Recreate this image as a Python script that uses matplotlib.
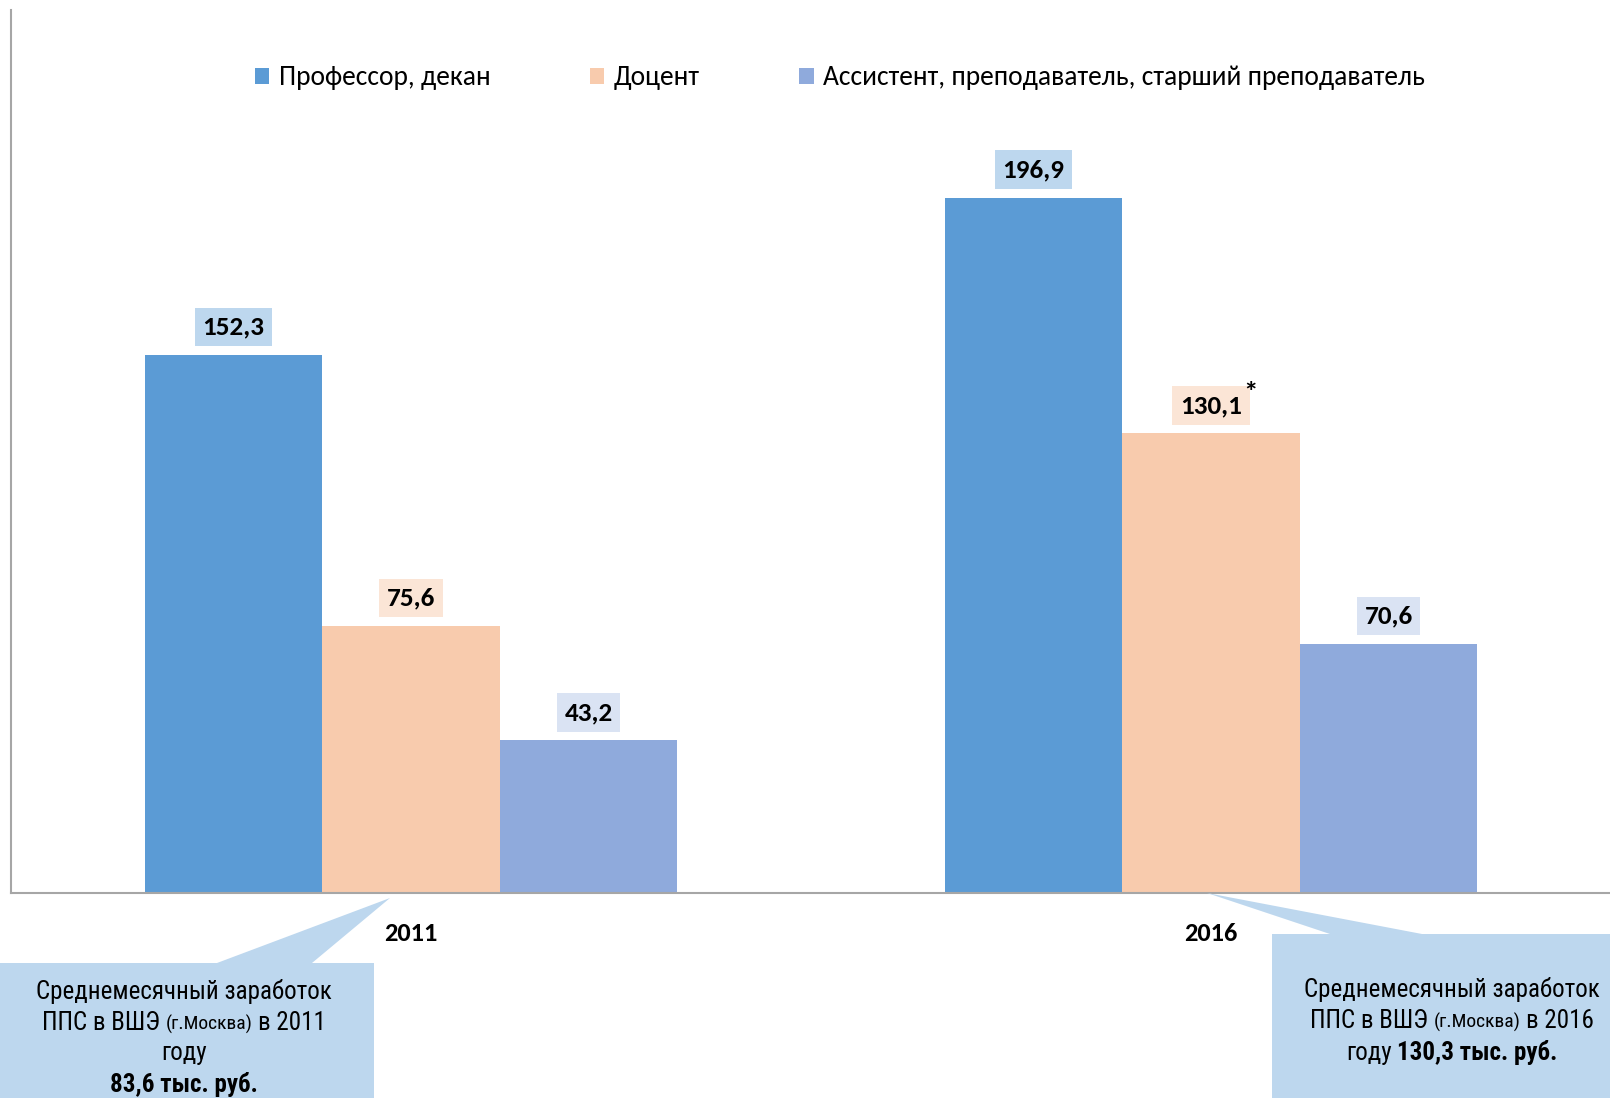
import matplotlib
matplotlib.use("Agg")
import matplotlib.pyplot as plt
import numpy as np
from matplotlib import font_manager
from matplotlib.patches import Patch, Polygon
from matplotlib.offsetbox import TextArea, HPacker, VPacker, AnnotationBbox

# === ДАННЫЕ ===
years = ["2011", "2016"]
series_names = ["Профессор, декан", "Доцент", "Ассистент, преподаватель, старший преподаватель"]
professor = [152.3, 196.9]
docent = [75.6, 130.1]
assistant = [43.2, 70.6]

bar_colors = ["#5B9BD5", "#F8CBAD", "#8FAADC"]
label_colors = ["#BDD7EE", "#FBE5D6", "#DAE3F3"]
callout_color = "#BDD7EE"

# === ШРИФТЫ ===
available = {f.name for f in font_manager.fontManager.ttflist}


def pick(*cands):
    for c in cands:
        if c in available:
            return c
    return "DejaVu Sans"


main_font = pick("Carlito", "Lato", "Open Sans")
narrow_font = pick("Liberation Sans Narrow", "Roboto Condensed", "Liberation Sans")
plt.rcParams["font.family"] = [main_font, "DejaVu Sans"]

W, H = 1610, 1098
fig = plt.figure(figsize=(W / 100, H / 100), dpi=100)


def fx(x):
    return x / W


def fy(y):
    return 1 - y / H


# оси: левая граница x=11, верх y=10, низ y=893
ax = fig.add_axes([fx(11), fy(893), 1600 / W, 883 / H])
ax.set_xlim(-0.5, 1.5)
ax.set_ylim(0, 250)

x = np.arange(len(years))
bw = 0.222
values = [professor, docent, assistant]
for i, vals in enumerate(values):
    pos = x + (i - 1) * bw
    ax.bar(pos, vals, width=bw, color=bar_colors[i], edgecolor="none",
           label=series_names[i], zorder=2)
    for xp, v in zip(pos, vals):
        ax.annotate(f"{v:.1f}".replace(".", ","), xy=(xp, v),
                    xytext=(0, 28), textcoords="offset pixels",
                    ha="center", va="center", fontsize=19.5, fontweight="bold",
                    color="black",
                    bbox=dict(boxstyle="square,pad=0.28", fc=label_colors[i], ec="none"))

# звёздочка у 130,1
ax.annotate("*", xy=(x[1], docent[1]), xytext=(40, 40), textcoords="offset pixels",
            ha="center", va="center", fontsize=21, fontweight="bold")

# === ОСИ ===
for s in ["top", "right"]:
    ax.spines[s].set_visible(False)
for s in ["left", "bottom"]:
    ax.spines[s].set_color("#A6A6A6")
    ax.spines[s].set_linewidth(1.5)
ax.set_yticks([])
ax.set_xticks(x)
ax.set_xticklabels(years, fontsize=19, fontweight="bold")
ax.tick_params(axis="x", length=0, pad=21)

# === ЛЕГЕНДА ===
handles = [Patch(facecolor=c, edgecolor="none", label=n) for c, n in zip(bar_colors, series_names)]
fig.legend(handles=handles, loc="center", bbox_to_anchor=(fx(840), fy(78)), ncol=3,
           frameon=False, fontsize=19.8, handlelength=0.53, handleheight=0.53,
           handletextpad=0.35, columnspacing=3.6)

# === ВЫНОСКИ ===
left_poly = [(0, 963), (217, 963), (390, 898), (312, 963), (374, 963), (374, 1098), (0, 1098)]
right_poly = [(1272, 934), (1330, 934), (1207, 893), (1422, 934), (1610, 934), (1610, 1098), (1272, 1098)]
for poly in [left_poly, right_poly]:
    fig.add_artist(Polygon([(fx(a), fy(b)) for a, b in poly], closed=True,
                           transform=fig.transFigure, fc=callout_color, ec="none", zorder=1))


def ta(s, size=18, weight="normal"):
    return TextArea(s, textprops=dict(fontsize=size, fontweight=weight,
                                      family=[narrow_font, "DejaVu Sans"]))


def line(*parts):
    return HPacker(children=list(parts), align="baseline", pad=0, sep=4)


left_box = VPacker(children=[
    ta("Среднемесячный заработок"),
    line(ta("ППС в ВШЭ"), ta("(г.Москва)", 14), ta("в 2011")),
    ta("году"),
    ta("83,6 тыс. руб.", weight="bold"),
], align="center", pad=0, sep=5)

right_box = VPacker(children=[
    ta("Среднемесячный заработок"),
    line(ta("ППС в ВШЭ"), ta("(г.Москва)", 14), ta("в 2016")),
    line(ta("году"), ta("130,3 тыс. руб.", weight="bold")),
], align="center", pad=0, sep=5)

for box, (cx, cy) in [(left_box, (184, 1038)), (right_box, (1452, 1021))]:
    ab = AnnotationBbox(box, (fx(cx), fy(cy)), xycoords="figure fraction",
                        frameon=False, box_alignment=(0.5, 0.5), annotation_clip=False)
    ab.set_zorder(3)
    fig.add_artist(ab)

fig.savefig("out.png", dpi=100)
